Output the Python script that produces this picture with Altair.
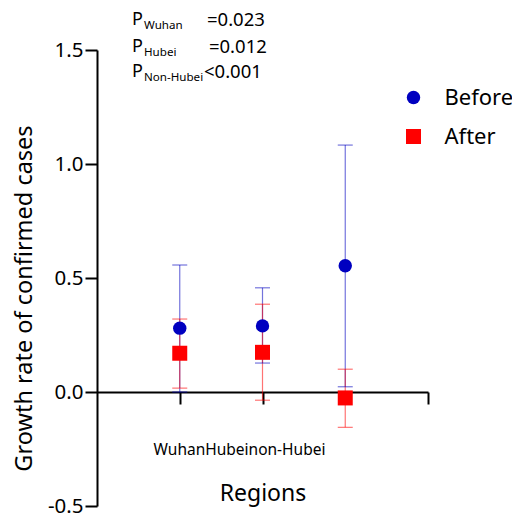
import altair as alt
import pandas as pd

# ---- data ----
regions = ["Wuhan", "Hubei", "non-Hubei"]
groups = ["Before", "After"]
before_mean = [0.280, 0.290, 0.554]
before_low = [0.000, 0.127, 0.023]
before_high = [0.557, 0.457, 1.083]
after_mean = [0.170, 0.174, -0.026]
after_low = [0.017, -0.036, -0.155]
after_high = [0.320, 0.385, 0.100]

y_ticks = [-0.5, 0.0, 0.5, 1.0, 1.5]
x_ticks = [1, 2, 3, 4]

p_names = ["Wuhan", "Hubei", "Non-Hubei"]
p_values = ["=0.023", "=0.012", "<0.001"]

# ---- build tables ----
rows = []
for i, r in enumerate(regions):
    rows.append(dict(region=r, pos=i + 1, group="Before", mean=before_mean[i],
                     low=before_low[i], high=before_high[i]))
    rows.append(dict(region=r, pos=i + 1, group="After", mean=after_mean[i],
                     low=after_low[i], high=after_high[i]))
df = pd.DataFrame(rows)

# annotation anchors (data space)
ann = pd.DataFrame({
    "P": ["P", "P", "P"],
    "name": p_names,
    "val": p_values,
    "xP": [0.423, 0.423, 0.423],
    "xs": [0.568, 0.568, 0.568],
    "xv": [1.329, 1.353, 1.293],
    "y": [1.630, 1.515, 1.402],
    "ys": [1.604, 1.489, 1.376],
})

FONT = "Noto Sans"
blue = "#0000C0"
red = "#FF0000"
x_label = "".join(regions)

xscale = alt.Scale(domain=[0, 4], nice=False, zero=False)
yscale = alt.Scale(domain=[-0.5, 1.5], nice=False, zero=False)
color = alt.Color(
    "group:N", scale=alt.Scale(domain=groups, range=[blue, red]),
    legend=alt.Legend(title=None, orient="none", legendX=305.5, legendY=36.5,
                      symbolSize=210, labelFontSize=22, rowPadding=17,
                      labelOffset=20, padding=0, symbolStrokeWidth=0,
                      symbolOpacity=1, labelColor="black", labelFont=FONT),
)

x_enc = alt.X(
    "pos:Q", scale=xscale,
    axis=alt.Axis(
        values=x_ticks, title="Regions", offset=-114,
        labelExpr="datum.value == 2 ? '" + x_label + "' : ''",
        labelOffset=-23.5, labelPadding=38, labelFontSize=15.5, labelLimit=0,
        labelOverlap=False, labelBound=False, labelFlush=False,
        tickSize=12, tickWidth=2, tickColor="black",
        domainWidth=2, domainColor="black", grid=False,
        titleFontSize=23, titleFontWeight="normal", titlePadding=24.5,
        labelColor="black", titleColor="black",
    ),
)
y_enc = alt.Y(
    "mean:Q", scale=yscale,
    axis=alt.Axis(
        values=y_ticks, labelExpr="replace(format(datum.value, '.1f'), '\u2212', '-')",
        title="Growth rate of confirmed cases",
        tickSize=12, tickWidth=2, tickColor="black", domainWidth=2,
        domainColor="black", labelPadding=2, labelFontSize=20.5, grid=False,
        titleFontSize=23.5, titleFontWeight="normal", titleY=248, titlePadding=10.5,
        labelColor="black", titleColor="black",
    ),
)

base = alt.Chart(df)

bars = base.mark_rule(strokeWidth=1.2, opacity=0.55).encode(
    x=alt.X("pos:Q", scale=xscale),
    y=alt.Y("low:Q", scale=yscale),
    y2="high:Q",
    color=color,
)
cap_lo = base.mark_tick(orient="horizontal", size=15, thickness=1.2, opacity=0.55).encode(
    x=alt.X("pos:Q", scale=xscale), y=alt.Y("low:Q", scale=yscale), color=color)
cap_hi = base.mark_tick(orient="horizontal", size=15, thickness=1.2, opacity=0.55).encode(
    x=alt.X("pos:Q", scale=xscale), y=alt.Y("high:Q", scale=yscale), color=color)

points = base.mark_point(filled=True, opacity=1, strokeWidth=0).encode(
    x=x_enc,
    y=y_enc,
    color=color,
    shape=alt.Shape("group:N", scale=alt.Scale(domain=groups, range=["circle", "square"])),
    size=alt.Size("group:N", scale=alt.Scale(domain=groups, range=[180, 225]), legend=None),
)

annP = alt.Chart(ann).mark_text(align="left", baseline="middle", fontSize=18, font=FONT,
                                color="black").encode(
    x=alt.X("xP:Q", scale=xscale), y=alt.Y("y:Q", scale=yscale), text="P:N")
annS = alt.Chart(ann).mark_text(align="left", baseline="middle", fontSize=11.6, font=FONT,
                                color="black").encode(
    x=alt.X("xs:Q", scale=xscale), y=alt.Y("ys:Q", scale=yscale), text="name:N")
annV = alt.Chart(ann).mark_text(align="left", baseline="middle", fontSize=18.5, font=FONT,
                                color="black").encode(
    x=alt.X("xv:Q", scale=xscale), y=alt.Y("y:Q", scale=yscale), text="val:N")

chart = alt.layer(bars, cap_lo, cap_hi, points, annP, annS, annV).properties(
    width=331, height=456,
    autosize=alt.AutoSizeParams(type="none"),
    padding={"left": 89, "top": 42, "right": 84, "bottom": 11},
    background="white",
).configure(font=FONT).configure_view(strokeWidth=0, stroke=None).configure_axis(
    labelFont=FONT, titleFont=FONT)

chart.save("out.html", embed_options={"renderer": "svg", "actions": False})
